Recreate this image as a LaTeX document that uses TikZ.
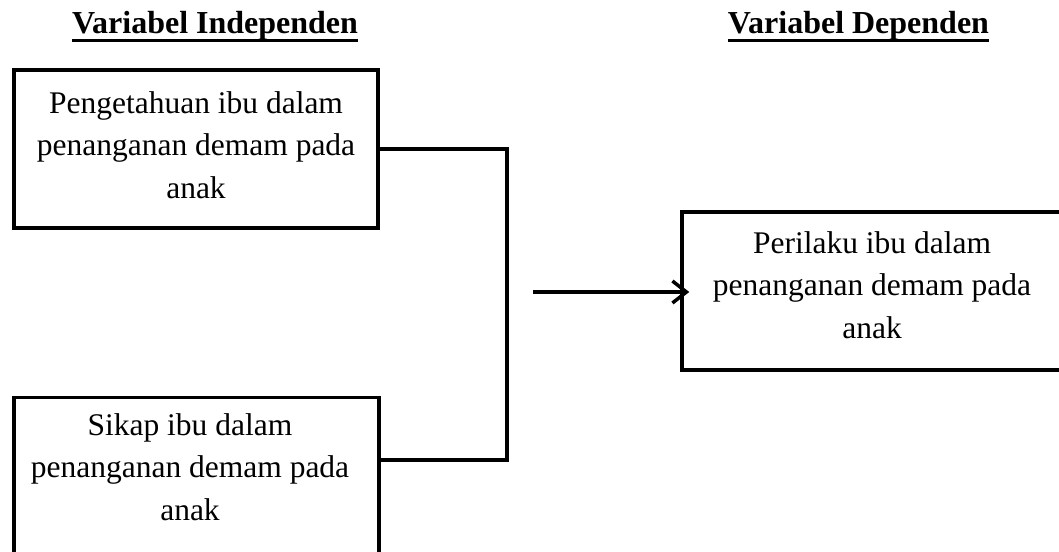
\documentclass[tikz,border=0pt]{standalone}
\usepackage{fontspec}
\setmainfont{Liberation Serif}
\usetikzlibrary{arrows.meta}
\begin{document}
\begin{tikzpicture}[x=1pt,y=1pt,
  frame/.style={draw, line width=3.5pt, inner sep=0pt},
  boxtext/.style={align=center, inner sep=0pt, anchor=north, font=\fontsize{31.5}{42.5}\selectfont},
  head/.style={inner sep=0pt, anchor=base, font=\fontsize{32}{38}\selectfont\bfseries},
  conn/.style={line width=3.5pt},
  uline/.style={line width=3pt}]
\useasboundingbox (0,0) rectangle (1059,551);
% headings
\node[head] (h1) at (215,517) {Variabel Independen};
\node[head] (h2) at (858.5,517) {Variabel Dependen};
\draw[uline] (h1.west |- 0,510) -- (h1.east |- 0,510);
\draw[uline] (h2.west |- 0,510) -- (h2.east |- 0,510);
% boxes
\node[frame, minimum width=364pt, minimum height=158pt] (b1) at (196,402) {};
\node[boxtext] (t1) at (196,460) {Pengetahuan ibu dalam\\penanganan demam pada\\anak};
\node[frame, anchor=north west, minimum width=365pt, minimum height=200pt] (b2) at (12,155) {};
\node[boxtext] (t2) at (190,138) {Sikap ibu dalam\\penanganan demam pada\\anak};
\node[frame, minimum width=380pt, minimum height=158pt] (b3) at (872,260) {};
\node[boxtext] (t3) at (872,320) {Perilaku ibu dalam\\penanganan demam pada\\anak};
% connectors
\coordinate (jb) at (507,91);
\coordinate (as) at (533,259);
\draw[conn] (b1.east) -| (jb) -- (jb -| b2.east);
\draw[conn, -{Straight Barb[length=14pt,width=22pt,line width=3.5pt]}, shorten >=-9pt] (as) -- (as -| b3.west);
\end{tikzpicture}
\end{document}
